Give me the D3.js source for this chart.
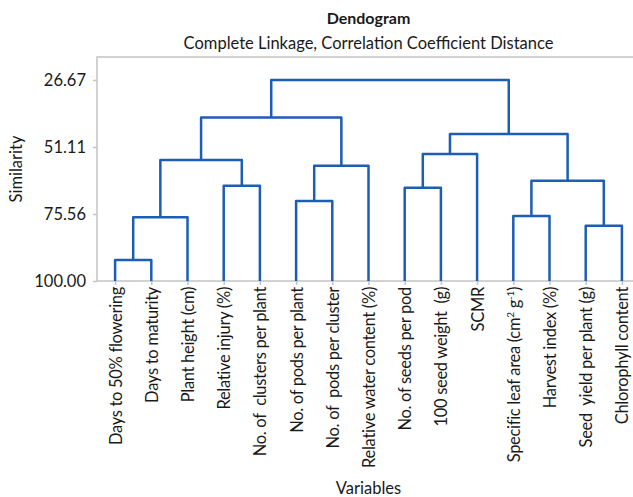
<!DOCTYPE html>
<html>
<head>
<meta charset="utf-8">
<script src="https://cdn.jsdelivr.net/npm/d3@7"></script>
<style>
  body { margin: 0; background: #fff; }
  text { font-family: Lato, "Open Sans", sans-serif; fill: #1a1a1a; }
</style>
</head>
<body>
<script>
// leaves, left to right
const variables = [
  "Days to 50% flowering", "Days to maturity", "Plant height (cm)",
  "Relative injury (%)", "No. of  clusters per plant", "No. of pods per plant",
  "No. of  pods per cluster", "Relative water content (%)", "No. of seeds per pod",
  "100 seed weight  (g)", "SCMR", "Specific leaf area (cm2 g-1)",
  "Harvest index (%)", "Seed  yield per plant (g)", "Chlorophyll content"
];

// linkage steps: [cluster a, cluster b, similarity]; new clusters are numbered from 15
const merges = [
  [0, 1, 92.34],
  [13, 14, 79.81],
  [15, 2, 76.77],
  [11, 12, 76.29],
  [5, 6, 70.81],
  [8, 9, 65.95],
  [3, 4, 65.22],
  [18, 16, 63.40],
  [19, 7, 57.93],
  [17, 21, 55.86],
  [20, 10, 53.67],
  [25, 22, 46.37],
  [24, 23, 40.41],
  [27, 26, 26.67]
];

const yTicks = [26.67, 51.11, 75.56, 100.00];

const width = 633, height = 497;
const margin = {top: 57, right: -7, bottom: 216, left: 97};

const svg = d3.select("body").append("svg")
    .attr("width", width)
    .attr("height", height);

const x = d3.scalePoint()
    .domain(d3.range(variables.length))
    .range([margin.left, width - margin.right])
    .padding(0.5);

const y = d3.scaleLinear()
    .domain([100, 18.3])
    .range([height - margin.bottom, margin.top]);

// frame
svg.append("rect")
    .attr("x", margin.left)
    .attr("y", margin.top)
    .attr("width", width - margin.right - margin.left)
    .attr("height", height - margin.bottom - margin.top)
    .attr("fill", "none")
    .attr("stroke", "#c4c4c4")
    .attr("stroke-width", 1.5);

// node positions
const nodeX = variables.map((d, i) => x(i));
const nodeY = variables.map(() => y(100));
const links = merges.map(([a, b, s]) => {
  const xm = (nodeX[a] + nodeX[b]) / 2;
  const link = {x1: nodeX[a], y1: nodeY[a], x2: nodeX[b], y2: nodeY[b], y: y(s)};
  nodeX.push(xm);
  nodeY.push(y(s));
  return link;
});

svg.append("g")
    .attr("fill", "none")
    .attr("stroke", "#1c5db5")
    .attr("stroke-width", 2.5)
    .attr("stroke-linejoin", "round")
  .selectAll("path")
  .data(links)
  .join("path")
    .attr("d", d => `M${d.x1},${d.y1}V${d.y}H${d.x2}V${d.y2}`);

// y axis
svg.append("g")
    .attr("transform", `translate(${margin.left},0)`)
    .call(d3.axisLeft(y).tickValues(yTicks).tickFormat(d3.format(".2f")).tickSize(4).tickPadding(7))
    .call(g => g.select(".domain").remove())
    .call(g => g.selectAll(".tick line").attr("stroke", "#c4c4c4").attr("stroke-width", 1.5))
    .call(g => g.selectAll(".tick text").attr("font-size", 16.5).attr("font-family", "Lato").attr("fill", "#1a1a1a"));

// x axis
const xAxis = svg.append("g")
    .attr("transform", `translate(0,${height - margin.bottom})`)
    .call(d3.axisBottom(x).tickSize(4).tickFormat(""))
    .call(g => g.select(".domain").remove())
    .call(g => g.selectAll(".tick line").attr("stroke", "#c4c4c4").attr("stroke-width", 1.5));

xAxis.selectAll(".tick").append("text")
    .attr("transform", "rotate(-90)")
    .attr("x", -6)
    .attr("dy", "0.36em")
    .attr("text-anchor", "end")
    .attr("font-size", 16.5)
    .attr("letter-spacing", -0.3)
    .style("white-space", "pre")
    .each(function(i) {
      const t = d3.select(this);
      const label = variables[i];
      if (label.includes("cm2")) {
        t.append("tspan").text("Specific leaf area (cm");
        t.append("tspan").attr("baseline-shift", "super").attr("font-size", 10).text("2");
        t.append("tspan").text(" g");
        t.append("tspan").attr("baseline-shift", "super").attr("font-size", 10).text("-1");
        t.append("tspan").text(")");
      } else {
        t.text(label);
      }
    });

// titles
const cx = (margin.left + width - margin.right) / 2;
svg.append("text")
    .attr("x", cx)
    .attr("y", 24)
    .attr("text-anchor", "middle")
    .attr("font-size", 16)
    .attr("font-weight", "bold")
    .text("Dendogram");

svg.append("text")
    .attr("x", cx)
    .attr("y", 49)
    .attr("text-anchor", "middle")
    .attr("font-size", 16.5)
    .text("Complete Linkage, Correlation Coefficient Distance");

svg.append("text")
    .attr("transform", `translate(22,${(margin.top + height - margin.bottom) / 2}) rotate(-90)`)
    .attr("text-anchor", "middle")
    .attr("font-size", 16.5)
    .text("Similarity");

svg.append("text")
    .attr("x", cx)
    .attr("y", 494)
    .attr("text-anchor", "middle")
    .attr("font-size", 16.5)
    .text("Variables");
</script>
</body>
</html>
